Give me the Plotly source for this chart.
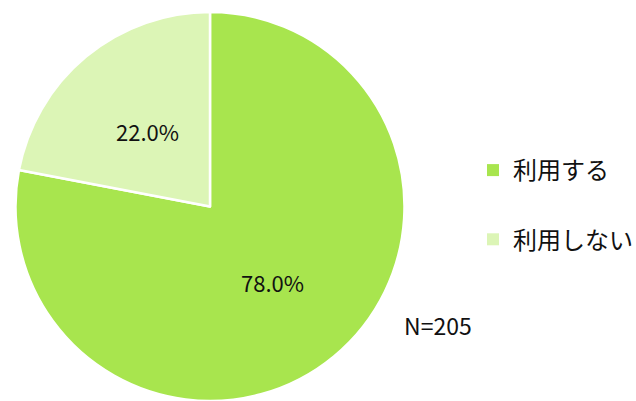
import math
import plotly.graph_objects as go

# Survey: share of respondents who use the service
labels = ["利用する", "利用しない"]
shares = [78.0, 22.0]
colors = ["#a8e54e", "#dcf5b6"]
sample_size = 205

W, H = 636, 401
FONT = "Noto Sans CJK JP"

# Pie placement in pixels (centre and radius)
CX, CY, R = 210.0, 206.5, 194.5
LABEL_R = 0.505  # fraction of the radius where the percentage labels sit

fig = go.Figure()

fig.add_trace(go.Pie(
    labels=labels,
    values=shares,
    sort=False,
    direction="clockwise",
    rotation=0,
    marker=dict(colors=colors, line=dict(color="white", width=2.5)),
    textinfo="none",
    hoverinfo="label+percent",
    showlegend=False,
    domain=dict(x=[(CX - R) / W, (CX + R) / W],
                y=[1 - (CY + R) / H, 1 - (CY - R) / H]),
))

# Percentage labels at the middle angle of each slice (clockwise from 12 o'clock)
total = sum(shares)
start = 0.0
for val in shares:
    mid = (start + val / 2) / total * 2 * math.pi
    start += val
    px = CX + LABEL_R * R * math.sin(mid)
    py = CY - LABEL_R * R * math.cos(mid)
    fig.add_annotation(
        text=f"{val:.1f}%", x=px / W, y=1 - py / H,
        xref="paper", yref="paper", xanchor="center", yanchor="middle",
        showarrow=False, font=dict(family=FONT, size=22, color="#111111"),
    )

# Legend entries drawn as square markers, one group per category
for name, col in zip(labels, colors):
    fig.add_trace(go.Scatter(
        x=[None], y=[None], mode="markers", name=name,
        legendgroup=name,
        marker=dict(symbol="square", size=9, color=col),
    ))

fig.add_annotation(
    text=f"N={sample_size}", x=402 / W, y=1 - 325 / H,
    xref="paper", yref="paper", xanchor="left", yanchor="middle",
    showarrow=False, font=dict(family=FONT, size=23, color="#111111"),
)

fig.update_layout(
    width=W, height=H,
    margin=dict(l=0, r=0, t=0, b=0, autoexpand=False),
    paper_bgcolor="white", plot_bgcolor="white",
    xaxis=dict(visible=False), yaxis=dict(visible=False),
    legend=dict(
        x=473 / W, y=1 - 148 / H, xanchor="left", yanchor="top",
        font=dict(family=FONT, size=24, color="#111111"),
        tracegroupgap=35, itemsizing="constant",
        bgcolor="rgba(0,0,0,0)",
    ),
    showlegend=True,
)

fig.write_html("out.html")
